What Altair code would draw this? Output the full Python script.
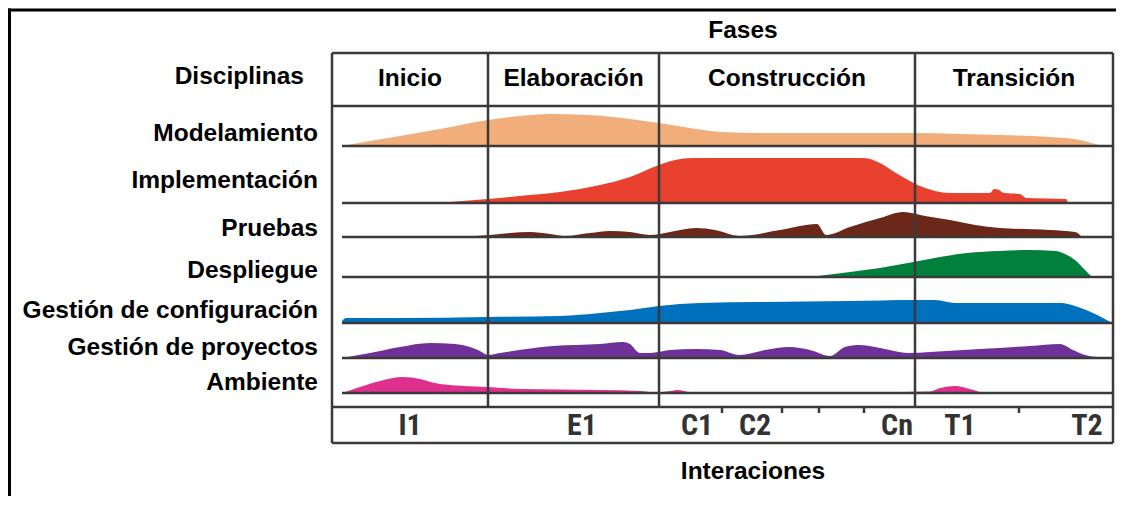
import altair as alt
import pandas as pd

# ---------------- data ----------------
disciplinas = ["Modelamiento", "Implementación", "Pruebas", "Despliegue",
               "Gestión de configuración", "Gestión de proyectos", "Ambiente"]
colores = ["#F2AE7A", "#E8412F", "#6B2718", "#007F3D", "#0071BC", "#6F3198", "#E0308F"]

# time position (t) and hump height (h) of each discipline
t_modelamiento = [10, 38, 68, 108, 156, 188, 218, 258, 298, 327, 358, 388, 428, 518, 583, 628, 668, 718, 748, 770]
h_modelamiento = [0, 5, 10, 17, 26, 30, 32, 31, 27, 23, 18, 14, 13, 13, 13, 12, 11, 9, 6, 0]

t_implementacion = [105, 156, 198, 228, 268, 298, 327, 343, 360, 532, 548, 564, 576, 588, 603, 618, 658, 662, 667, 672, 688, 694, 734, 736]
h_implementacion = [0, 4, 8, 11, 18, 26, 38, 43, 45, 45, 40, 30, 23, 17, 12, 10, 10, 14, 13, 10, 9, 5, 4, 0]

t_pruebas = [121, 158, 178, 198, 218, 233, 258, 278, 298, 318, 338, 364, 383, 408, 448, 485, 494, 518, 548, 571, 593, 618, 643, 668, 718, 743, 750]
h_pruebas = [0, 2, 4, 5, 3, 1, 4, 6, 5, 2, 5, 9, 7, 1, 7, 13, 2, 10, 19, 25, 21, 17, 12, 9, 7, 5, 0]

t_despliegue = [478, 518, 548, 576, 608, 635, 668, 698, 723, 733, 743, 753, 760]
h_despliegue = [0, 5, 9, 14, 20, 24, 26, 27, 26, 23, 17, 7, 0]

t_configuracion = [10, 14, 68, 156, 228, 268, 298, 327, 368, 428, 518, 583, 603, 623, 668, 728, 746, 761, 780]
h_configuracion = [2, 5, 5, 6, 7, 10, 13, 17, 20, 21, 22, 23, 23, 20, 20, 20, 16, 10, 0]

t_proyectos = [10, 38, 68, 98, 123, 138, 148, 156, 168, 221, 268, 291, 298, 308, 318, 338, 364, 388, 407, 433, 457, 478, 498, 513, 528, 553, 576, 598, 648, 698, 728, 741, 753, 775]
h_proyectos = [0, 5, 11, 15, 14, 11, 7, 3, 5, 12, 14, 16, 14, 5, 5, 8, 9, 8, 3, 8, 11, 8, 2, 11, 13, 9, 5, 6, 9, 12, 14, 8, 3, 0]

t_ambiente = [10, 28, 48, 71, 88, 108, 156, 188, 268, 308, 323, 338, 346, 358, 568, 598, 608, 623, 638, 650]
h_ambiente = [0, 6, 12, 16, 14, 9, 6, 4, 3, 2, 0.5, 2, 3, 1, 1, 1.5, 5, 7, 4, 0]

series_t = [t_modelamiento, t_implementacion, t_pruebas, t_despliegue, t_configuracion, t_proyectos, t_ambiente]
series_h = [h_modelamiento, h_implementacion, h_pruebas, h_despliegue, h_configuracion, h_proyectos, h_ambiente]

# phases and iterations
fases = ["Inicio", "Elaboración", "Construcción", "Transición"]
limites_fases = [0, 156, 327, 583, 781]
iteraciones = ["I1", "E1", "C1", "C2", "Cn", "T1", "T2"]
t_iteraciones = [78, 250, 365, 423, 565, 628, 755]
t_marcas = [390, 450, 487, 532, 687]

# ---------------- layout (vertical units, 0 = bottom of grid) ----------------
V_TOP = 390
V_HEADER = 337
V_ITER = 36
T_END = 781
T_ROW_START = 10
base_v = [297, 240, 206, 166, 120, 85, 50]
label_v = [302, 255, 207, 165, 125, 88, 53]

# ---------------- tables ----------------
rows = []
for name, b, ts, hs in zip(disciplinas, base_v, series_t, series_h):
    for t, h in zip(ts, hs):
        rows.append({"row": name, "t": t, "top": b + h, "base": b})
df_area = pd.DataFrame(rows)

lines = []
lines += [
    {"t1": 0, "t2": T_END, "v1": V_TOP, "v2": V_TOP},
    {"t1": 0, "t2": T_END, "v1": 0, "v2": 0},
    {"t1": 0, "t2": 0, "v1": 0, "v2": V_TOP},
    {"t1": T_END, "t2": T_END, "v1": 0, "v2": V_TOP},
    {"t1": 0, "t2": T_END, "v1": V_HEADER, "v2": V_HEADER},
    {"t1": 0, "t2": T_END, "v1": V_ITER, "v2": V_ITER},
]
for x in limites_fases[1:-1]:
    lines.append({"t1": x, "t2": x, "v1": V_ITER, "v2": V_TOP})
for b in base_v:
    lines.append({"t1": T_ROW_START, "t2": T_END, "v1": b, "v2": b})
for x in t_marcas:
    lines.append({"t1": x, "t2": x, "v1": V_ITER, "v2": V_ITER - 6})
df_lines = pd.DataFrame(lines)

df_frame = pd.DataFrame([
    {"t1": -340, "t2": 820, "v1": 433, "v2": 433},
    {"t1": -322.5, "t2": -322.5, "v1": 434.5, "v2": -80},
])

df_fases = pd.DataFrame({
    "label": fases,
    "t": [(a + b) / 2 for a, b in zip(limites_fases[:-1], limites_fases[1:])],
    "v": [357] * 4,
})
df_rows = pd.DataFrame({"label": disciplinas, "t": [-14] * 7, "v": label_v})
df_iter = pd.DataFrame({"label": iteraciones, "t": t_iteraciones, "v": [8] * 7})
df_titles = pd.DataFrame({
    "label": ["Fases", "Interaciones"],
    "t": [411, 421],
    "v": [405, -36],
})
df_disc = pd.DataFrame({"label": ["Disciplinas"], "t": [-28], "v": [359]})

# ---------------- chart ----------------
xs = alt.Scale(domain=[0, T_END], nice=False, zero=False)
ys = alt.Scale(domain=[0, V_TOP], nice=False, zero=False)

areas = alt.Chart(df_area).mark_area(interpolate="monotone").encode(
    x=alt.X("t:Q", scale=xs, axis=None),
    y=alt.Y("top:Q", scale=ys, axis=None),
    y2="base:Q",
    color=alt.Color("row:N", scale=alt.Scale(domain=disciplinas, range=colores), legend=None),
)

grid = alt.Chart(df_lines).mark_rule(color="#3a3a3a", strokeWidth=2.5).encode(
    x=alt.X("t1:Q", scale=xs, axis=None), x2="t2:Q",
    y=alt.Y("v1:Q", scale=ys, axis=None), y2="v2:Q",
)

frame = alt.Chart(df_frame).mark_rule(color="#000000", strokeWidth=3).encode(
    x=alt.X("t1:Q", scale=xs, axis=None), x2="t2:Q",
    y=alt.Y("v1:Q", scale=ys, axis=None), y2="v2:Q",
)

def text_layer(df, **kw):
    return alt.Chart(df).mark_text(**kw).encode(
        x=alt.X("t:Q", scale=xs, axis=None),
        y=alt.Y("v:Q", scale=ys, axis=None),
        text="label:N",
    )

bold = dict(font="Liberation Sans", fontWeight="bold", fontSize=24.5, color="#000000", baseline="alphabetic")

t_fases = text_layer(df_fases, align="center", **bold)
t_rows = text_layer(df_rows, align="right", **bold)
t_titles = text_layer(df_titles, align="center", **bold)
t_disc = text_layer(df_disc, align="right", **bold)
t_iter = text_layer(df_iter, align="center", baseline="alphabetic",
                    font="Liberation Sans Narrow, Arial Narrow, Roboto Condensed, Noto Sans Condensed, DejaVu Sans Condensed, Liberation Sans",
                    fontWeight="bold", fontSize=30, color="#333333")

chart = alt.layer(areas, grid, frame, t_fases, t_rows, t_titles, t_disc, t_iter).properties(
    width=781, height=390,
    padding={"left": 324, "top": 45, "right": 3, "bottom": 53},
    autosize="none",
    background="#ffffff",
).configure_view(stroke=None)

chart.save("out.html", embed_options={"renderer": "svg", "actions": False})
